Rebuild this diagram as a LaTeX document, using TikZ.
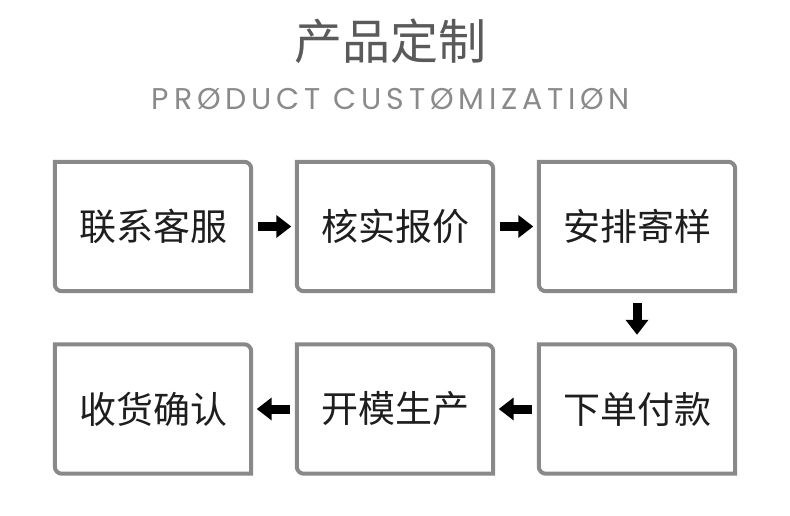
\documentclass[tikz,border=0pt]{standalone}
\usepackage{fontspec}
\usepackage{tikz}
\usetikzlibrary{arrows.meta,positioning}

\newfontfamily\cjk{Noto Sans CJK SC}
\newfontfamily\capsfont{Poppins}[LetterSpace=16]

\definecolor{framegray}{HTML}{898989}
\definecolor{titlegray}{HTML}{5A5A5A}
\definecolor{subgray}{HTML}{8A8A8A}
\definecolor{textdark}{HTML}{1E1E1E}

\tikzset{
  stepbox/.style={minimum width=196pt, minimum height=129pt, inner sep=0pt,
    font=\cjk\fontsize{37}{37}\selectfont, text=textdark},
  boxline/.style={draw=framegray, line width=4pt},
  flow/.style={line width=9pt, -{Triangle[length=15pt,width=22pt]},
    shorten <=7pt, shorten >=5.5pt}
}

% box outline: round corners top right and bottom left only
\newcommand\stepframe[1]{%
  \draw[boxline] (#1.north west) -- ([xshift=-7pt]#1.north east)
    arc[start angle=90, end angle=0, radius=7pt] -- (#1.south east)
    -- ([xshift=7pt]#1.south west)
    arc[start angle=270, end angle=180, radius=7pt] -- cycle;}

\begin{document}
\begin{tikzpicture}[x=1pt,y=1pt]

\def \colsep {242}
\def \rowtop {288.5}
\def \rowbot {106}

\fill[white] (0,0) rectangle (790,515);
\useasboundingbox (0,0) rectangle (790,515);

\node[font=\cjk\fontsize{48}{48}\selectfont, text=titlegray] (title) at (390,474) {产品定制};
\node[font=\capsfont\fontsize{30}{30}\selectfont, text=subgray] (subtitle) at (391,416) {PRØDUCT CUSTØMIZATIØN};

% first row
\node[stepbox] (contact) at (153,\rowtop) {联系客服};
\node[stepbox] (quote) at (153+\colsep,\rowtop) {核实报价};
\node[stepbox] (sample) at (153+2*\colsep,\rowtop) {安排寄样};

% second row
\node[stepbox] (confirm) at (153,\rowbot) {收货确认};
\node[stepbox] (mould) at (153+\colsep,\rowbot) {开模生产};
\node[stepbox] (order) at (153+2*\colsep,\rowbot) {下单付款};

\stepframe{contact}
\stepframe{quote}
\stepframe{sample}
\stepframe{confirm}
\stepframe{mould}
\stepframe{order}

\draw[flow] (contact) -- (quote);
\draw[flow] (quote) -- (sample);
\draw[flow, shorten <=12pt, shorten >=9.5pt] (sample) -- (order);
\draw[flow] (order) -- (mould);
\draw[flow] (mould) -- (confirm);

\end{tikzpicture}
\end{document}
